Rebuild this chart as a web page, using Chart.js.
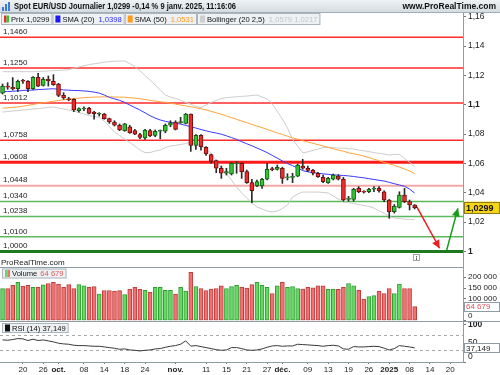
<!DOCTYPE html>
<html>
<head>
<meta charset="utf-8">
<script src="https://cdn.jsdelivr.net/npm/chart.js@4/dist/chart.umd.min.js"></script>
<style>
  html, body { margin: 0; padding: 0; background: #fff; }
  canvas { display: block; }
</style>
</head>
<body>
<canvas id="chart" width="500" height="375"></canvas>
<script>
// ===== Spot EUR/USD daily - ProRealTime style chart (Chart.js) =====

// index 0 = 16 Sep 2024 ... 81 = 9 Jan 2025 (weekdays, no 25 Dec / 1 Jan)
const opens = [
  1.1078, 1.1125, 1.1118, 1.1109, 1.1163, 1.1159, 1.1109, 1.1186, 1.1132, 1.1173,
  1.1159, 1.1141, 1.1064, 1.1041, 1.1037, 1.0959, 1.0971, 1.0975, 1.0950, 1.0935,
  1.0937, 1.0905, 1.0882, 1.0860, 1.0823, 1.0850, 1.0823, 1.0796, 1.0773, 1.0823,
  1.0791, 1.0819, 1.0819, 1.0860, 1.0882, 1.0878, 1.0873, 1.0937, 1.0723, 1.0791,
  1.0710, 1.0660, 1.0619, 1.0567, 1.0533, 1.0528, 1.0596, 1.0601, 1.0544, 1.0469,
  1.0446, 1.0446, 1.0492, 1.0562, 1.0560, 1.0567, 1.0502, 1.0505, 1.0514, 1.0582,
  1.0567, 1.0555, 1.0533, 1.0505, 1.0469, 1.0492, 1.0514, 1.0492, 1.0355, 1.0355,
  1.0430, 1.0409, 1.0407, 1.0424, 1.0430, 1.0407, 1.0351, 1.0271, 1.0301, 1.0385,
  1.0340, 1.0317
];
const highs = [
  1.1141, 1.1150, 1.1185, 1.1168, 1.1173, 1.1164, 1.1191, 1.1214, 1.1186, 1.1196,
  1.1205, 1.1146, 1.1082, 1.1050, 1.1041, 1.0978, 1.0986, 1.0982, 1.0955, 1.0946,
  1.0941, 1.0909, 1.0891, 1.0869, 1.0873, 1.0860, 1.0832, 1.0805, 1.0832, 1.0832,
  1.0828, 1.0828, 1.0869, 1.0891, 1.0891, 1.0914, 1.0941, 1.0937, 1.0796, 1.0796,
  1.0714, 1.0664, 1.0623, 1.0582, 1.0567, 1.0605, 1.0612, 1.0605, 1.0555, 1.0492,
  1.0487, 1.0498, 1.0601, 1.0574, 1.0589, 1.0574, 1.0530, 1.0533, 1.0596, 1.0628,
  1.0582, 1.0560, 1.0540, 1.0521, 1.0505, 1.0528, 1.0524, 1.0505, 1.0376, 1.0430,
  1.0442, 1.0414, 1.0430, 1.0442, 1.0442, 1.0414, 1.0355, 1.0320, 1.0407, 1.0430,
  1.0351, 1.0320
];
const lows = [
  1.1073, 1.1105, 1.1100, 1.1090, 1.1146, 1.1089, 1.1105, 1.1123, 1.1127, 1.1127,
  1.1132, 1.1055, 1.1037, 1.1027, 1.0953, 1.0950, 1.0959, 1.0937, 1.0901, 1.0923,
  1.0901, 1.0873, 1.0855, 1.0823, 1.0819, 1.0805, 1.0796, 1.0768, 1.0764, 1.0782,
  1.0782, 1.0768, 1.0809, 1.0850, 1.0828, 1.0873, 1.0869, 1.0682, 1.0696, 1.0691,
  1.0655, 1.0601, 1.0537, 1.0498, 1.0521, 1.0521, 1.0533, 1.0498, 1.0464, 1.0333,
  1.0442, 1.0430, 1.0487, 1.0550, 1.0555, 1.0464, 1.0487, 1.0469, 1.0510, 1.0560,
  1.0544, 1.0521, 1.0505, 1.0469, 1.0464, 1.0487, 1.0487, 1.0342, 1.0343, 1.0343,
  1.0400, 1.0398, 1.0400, 1.0407, 1.0405, 1.0340, 1.0226, 1.0262, 1.0296, 1.0333,
  1.0283, 1.0290
];
const closes = [
  1.1127, 1.1120, 1.1109, 1.1159, 1.1160, 1.1109, 1.1186, 1.1127, 1.1173, 1.1164,
  1.1136, 1.1064, 1.1046, 1.1032, 1.0964, 1.0973, 1.0975, 1.0941, 1.0937, 1.0939,
  1.0905, 1.0882, 1.0860, 1.0828, 1.0869, 1.0809, 1.0800, 1.0778, 1.0828, 1.0787,
  1.0819, 1.0823, 1.0860, 1.0877, 1.0832, 1.0882, 1.0937, 1.0723, 1.0791, 1.0714,
  1.0664, 1.0614, 1.0567, 1.0533, 1.0544, 1.0601, 1.0599, 1.0544, 1.0469, 1.0414,
  1.0476, 1.0492, 1.0560, 1.0558, 1.0574, 1.0498, 1.0505, 1.0510, 1.0589, 1.0567,
  1.0553, 1.0533, 1.0510, 1.0476, 1.0498, 1.0521, 1.0492, 1.0351, 1.0360, 1.0424,
  1.0407, 1.0405, 1.0424, 1.0426, 1.0414, 1.0351, 1.0271, 1.0310, 1.0385, 1.0340,
  1.0317, 1.0299
];
const volumes = [
  148000, 148000, 162000, 176000, 159000, 162000, 153000, 153000, 165000, 171000,
  176000, 168000, 153000, 166000, 148000, 166000, 160000, 153000, 157000, 122000,
  139000, 139000, 136000, 138000, 120000, 145000, 153000, 144000, 140000, 130000,
  153000, 153000, 140000, 140000, 122000, 153000, 136000, 222000, 157000, 148000,
  139000, 145000, 148000, 160000, 148000, 157000, 162000, 153000, 150000, 166000,
  176000, 163000, 153000, 125000, 160000, 176000, 153000, 157000, 148000, 145000,
  153000, 151000, 160000, 160000, 144000, 145000, 144000, 153000, 171000, 160000,
  140000, 99000, 111000, 116000, 136000, 125000, 148000, 125000, 168000, 148000,
  148000, 64679
];
const sma20 = [
  1.1088, 1.1090, 1.1092, 1.1094, 1.1097, 1.1099, 1.1100, 1.1103, 1.1105, 1.1107,
  1.1109, 1.1105, 1.1101, 1.1099, 1.1097, 1.1096, 1.1094, 1.1091, 1.1086, 1.1079,
  1.1066, 1.1050, 1.1040, 1.1030, 1.1016, 1.0998, 1.0981, 1.0964, 1.0945, 1.0925,
  1.0909, 1.0896, 1.0887, 1.0880, 1.0874, 1.0868, 1.0859, 1.0850, 1.0841, 1.0831,
  1.0822, 1.0814, 1.0807, 1.0799, 1.0788, 1.0776, 1.0764, 1.0748, 1.0734, 1.0720,
  1.0705, 1.0690, 1.0674, 1.0655, 1.0636, 1.0617, 1.0599, 1.0585, 1.0570, 1.0551,
  1.0543, 1.0537, 1.0533, 1.0529, 1.0526, 1.0522, 1.0520, 1.0518, 1.0515, 1.0511,
  1.0506, 1.0502, 1.0496, 1.0491, 1.0485, 1.0480, 1.0471, 1.0462, 1.0453, 1.0444,
  1.0425, 1.0398
];
const sma50 = [
  1.0977, 1.0979, 1.0982, 1.0985, 1.0989, 1.0996, 1.1002, 1.1008, 1.1013, 1.1018,
  1.1024, 1.1029, 1.1034, 1.1038, 1.1042, 1.1045, 1.1048, 1.1050, 1.1052, 1.1053,
  1.1054, 1.1054, 1.1053, 1.1052, 1.1051, 1.1048, 1.1045, 1.1041, 1.1035, 1.1030,
  1.1025, 1.1020, 1.1016, 1.1011, 1.1004, 1.0998, 1.0992, 1.0986, 1.0979, 1.0972,
  1.0965, 1.0955, 1.0945, 1.0935, 1.0924, 1.0912, 1.0900, 1.0889, 1.0878, 1.0866,
  1.0855, 1.0844, 1.0832, 1.0820, 1.0808, 1.0797, 1.0785, 1.0774, 1.0765, 1.0755,
  1.0746, 1.0737, 1.0728, 1.0719, 1.0709, 1.0700, 1.0691, 1.0683, 1.0672, 1.0666,
  1.0659, 1.0650, 1.0640, 1.0629, 1.0618, 1.0607, 1.0597, 1.0587, 1.0575, 1.0562,
  1.0549, 1.0531
];
const bollUp = [
  1.1225, 1.1225, 1.1225, 1.1225, 1.1225, 1.1225, 1.1225, 1.1226, 1.1228, 1.1230,
  1.1232, 1.1234, 1.1236, 1.1239, 1.1248, 1.1257, 1.1265, 1.1273, 1.1279, 1.1284,
  1.1290, 1.1294, 1.1296, 1.1298, 1.1298, 1.1280, 1.1260, 1.1231, 1.1200, 1.1168,
  1.1134, 1.1100, 1.1066, 1.1052, 1.1043, 1.1031, 1.1016, 1.1003, 1.0988, 1.0980,
  1.0998, 1.1015, 1.1029, 1.1042, 1.1048, 1.1051, 1.1054, 1.1057, 1.1059, 1.1063,
  1.1066, 1.1053, 1.1039, 1.1007, 1.0954, 1.0903, 1.0841, 1.0763, 1.0719, 1.0671,
  1.0679, 1.0689, 1.0698, 1.0708, 1.0710, 1.0708, 1.0705, 1.0703, 1.0701, 1.0698,
  1.0691, 1.0686, 1.0681, 1.0674, 1.0669, 1.0664, 1.0657, 1.0662, 1.0661, 1.0634,
  1.0608, 1.0579
];
const bollDown = [
  1.0950, 1.0954, 1.0957, 1.0960, 1.0964, 1.0967, 1.0971, 1.0974, 1.0978, 1.0981,
  1.0984, 1.0978, 1.0971, 1.0964, 1.0957, 1.0947, 1.0937, 1.0926, 1.0920, 1.0914,
  1.0889, 1.0851, 1.0814, 1.0790, 1.0766, 1.0743, 1.0719, 1.0691, 1.0674, 1.0674,
  1.0685, 1.0691, 1.0708, 1.0719, 1.0723, 1.0729, 1.0736, 1.0746, 1.0732, 1.0719,
  1.0698, 1.0671, 1.0616, 1.0569, 1.0528, 1.0487, 1.0439, 1.0399, 1.0364, 1.0330,
  1.0303, 1.0290, 1.0276, 1.0269, 1.0276, 1.0293, 1.0317, 1.0371, 1.0392, 1.0405,
  1.0405, 1.0405, 1.0405, 1.0402, 1.0399, 1.0378, 1.0358, 1.0339, 1.0334, 1.0327,
  1.0320, 1.0313, 1.0307, 1.0296, 1.0276, 1.0262, 1.0238, 1.0228, 1.0225, 1.0221,
  1.0219, 1.0217
];
const rsi14 = [
  58.5, 57.6, 59.4, 62.1, 61.2, 56.8, 60.3, 56.8, 58.5, 55.9,
  53.2, 49.7, 47.9, 47.0, 44.4, 43.4, 43.4, 42.5, 41.6, 41.6,
  39.9, 38.1, 36.4, 33.7, 34.6, 31.9, 31.0, 29.2, 31.0, 31.9,
  34.6, 35.5, 39.0, 41.6, 43.4, 47.0, 55.9, 42.0, 43.4, 40.7,
  38.1, 35.5, 32.8, 31.0, 31.9, 38.1, 38.1, 35.5, 31.9, 31.0,
  31.9, 34.6, 39.0, 42.5, 43.4, 41.6, 42.5, 42.5, 47.0, 46.1,
  45.2, 44.3, 43.4, 41.6, 43.4, 44.3, 42.5, 34.6, 33.7, 40.8,
  39.9, 39.9, 40.8, 41.6, 40.8, 36.4, 31.9, 35.5, 43.4, 41.6,
  39.9, 37.149
];

// support / resistance levels drawn across the price pane
const levels = [1.1460, 1.1250, 1.1012, 1.0758, 1.0608, 1.0448, 1.0340, 1.0238, 1.0100, 1.0000];

// projected path after the last candle (x in trading-day slots)
const arrowDown = [{ x: 81.4, y: 1.0305 }, { x: 85.9, y: 1.0022 }];
const arrowUp = [{ x: 87.3, y: 1.0010 }, { x: 89.5, y: 1.0294 }];

// axis ticks
const priceTicks = [1.00, 1.02, 1.04, 1.06, 1.08, 1.10, 1.12, 1.14, 1.16];
const volumeTicks = [0, 50000, 100000, 150000, 200000];
const rsiTicks = [0, 30, 50, 70, 100];
const rsiBands = [30, 70];
const dateTickIdx = [4, 8, 11, 16, 20, 24, 28, 34, 40, 44, 48, 52, 55, 60, 64, 68, 72, 76, 80, 84, 88];
const dateTickText = ['20', '26', 'oct.', '08', '14', '18', '24', 'nov.', '11', '15', '21', '27', 'déc.', '09', '13', '19', '26', '2025', '08', '14', '20'];

// ----- styling -----
const FONT = '"Liberation Sans", Arial, sans-serif';
const UP = '#33c433', UP_DARK = '#145c14';
const DOWN = '#ee2b2b', DOWN_DARK = '#6e1010';
const VOL_UP = '#66d866', VOL_UP_EDGE = '#2e9e2e';
const VOL_DOWN = '#ee7272', VOL_DOWN_EDGE = '#c23c3c';
const AXIS = '#8e9ca6';
const levelColors = ['#ff2a2a', '#ff2a2a', '#ff2a2a', '#ff2a2a', '#ff1a1a', '#f4a8a8', '#5cb85c', '#5cb85c', '#5cb85c', '#1f7a1f'];
const levelWidths = [1.5, 1.5, 1.5, 1.5, 3, 2, 1.5, 1.5, 1.5, 3];
const TAG_FONT = '7.6px ' + FONT;

Chart.defaults.font.family = FONT;
Chart.defaults.font.size = 8;
Chart.defaults.color = '#222';

const N = closes.length;
const isUp = i => closes[i] >= opens[i];
const frNum = (v, d) => v.toFixed(d).replace('.', ',');
const frThousands = v => Math.round(v).toString().replace(/\B(?=(\d{3})+(?!\d))/g, ' ');
const priceLabel = v => v.toFixed(2).replace(/0+$/, '').replace(/\.$/, '').replace('.', ',');
const xy = arr => arr.map((v, i) => ({ x: i, y: v }));
const tickOf = c => (c && c.tick) ? c.tick : null;

function drawTag(ctx, x, y, h, icon, parts) {
  ctx.font = TAG_FONT;
  let w = 10;
  parts.forEach(p => { w += ctx.measureText(p[0]).width + (p[2] || 0); });
  w += 3;
  ctx.fillStyle = '#eef1f3';
  ctx.fillRect(x, y, w, h);
  ctx.strokeStyle = '#aab5bd';
  ctx.lineWidth = 1;
  ctx.strokeRect(x + 0.5, y + 0.5, w - 1, h - 1);
  const iw = 5, ih = 7, iy = y + (h - ih) / 2;
  icon.forEach((c, k) => {
    ctx.fillStyle = c;
    ctx.fillRect(x + 3 + k * iw / icon.length, iy, iw / icon.length, ih);
  });
  let tx = x + 10;
  ctx.textBaseline = 'middle';
  ctx.textAlign = 'left';
  parts.forEach(([t, c, gap]) => {
    ctx.fillStyle = c;
    ctx.fillText(t, tx, y + h / 2 + 0.5);
    tx += ctx.measureText(t).width + (gap || 0);
  });
  return w;
}

function valueBox(ctx, y, text, fill, color, bold) {
  const x0 = 464, x1 = 500, h = bold ? 12 : 10;
  ctx.fillStyle = fill;
  ctx.fillRect(x0, y - h / 2, x1 - x0, h);
  ctx.strokeStyle = bold ? '#8a7a1a' : '#8e9ca6';
  ctx.lineWidth = 1;
  ctx.strokeRect(x0 + 0.5, Math.round(y - h / 2) + 0.5, x1 - x0 - 1, h - 1);
  ctx.fillStyle = color;
  ctx.font = (bold ? 'bold 9px ' : '8px ') + FONT;
  ctx.textAlign = 'left';
  ctx.textBaseline = 'middle';
  ctx.fillText(text, x0 + 2, y + 0.5);
}

function arrowHead(ctx, p0, p1, color) {
  const a = Math.atan2(p1.y - p0.y, p1.x - p0.x);
  const L = 8, W = 4;
  ctx.fillStyle = color;
  ctx.beginPath();
  ctx.moveTo(p1.x, p1.y);
  ctx.lineTo(p1.x - L * Math.cos(a) + W * Math.sin(a), p1.y - L * Math.sin(a) - W * Math.cos(a));
  ctx.lineTo(p1.x - L * Math.cos(a) - W * Math.sin(a), p1.y - L * Math.sin(a) + W * Math.cos(a));
  ctx.closePath();
  ctx.fill();
}

const decorPlugin = {
  id: 'decor',
  beforeDraw(chart) {
    const { ctx, width } = chart;
    ctx.save();
    ctx.fillStyle = '#fff';
    ctx.fillRect(0, 0, width, chart.height);
    const g = ctx.createLinearGradient(0, 0, 0, 13);
    g.addColorStop(0, '#eef2f4');
    g.addColorStop(1, '#d3dadf');
    ctx.fillStyle = g;
    ctx.fillRect(0, 0, width, 13);
    ctx.strokeStyle = '#a3afb8';
    ctx.beginPath(); ctx.moveTo(0, 12.5); ctx.lineTo(width, 12.5); ctx.stroke();
    // small chart icon
    ctx.fillStyle = '#3a7bd5';
    [[2, 7, 4], [5, 4, 7], [8, 2, 9]].forEach(([x, y, h]) => ctx.fillRect(x, y, 2, h));
    ctx.fillStyle = '#111';
    ctx.font = 'bold 8.5px ' + FONT;
    ctx.textBaseline = 'middle';
    ctx.textAlign = 'left';
    ctx.fillText('Spot EUR/USD Journalier ' + frNum(closes[N - 1], 4) + ' -0,14 % 9 janv. 2025, 11:16:06', 14, 7, 222);
    ctx.textAlign = 'right';
    ctx.fillText('www.ProRealTime.com', 496, 7);
    ctx.restore();
  },
  beforeDatasetsDraw(chart) {
    const { ctx, chartArea } = chart;
    const sP = chart.scales.yPrice;
    ctx.save();
    levels.forEach((lv, i) => {
      const y = sP.getPixelForValue(lv);
      ctx.strokeStyle = levelColors[i];
      ctx.lineWidth = levelWidths[i];
      ctx.beginPath();
      ctx.moveTo(chartArea.left, y);
      ctx.lineTo(chartArea.right, y);
      ctx.stroke();
      ctx.fillStyle = '#222';
      ctx.font = '8px ' + FONT;
      ctx.textAlign = 'left';
      ctx.textBaseline = 'middle';
      ctx.fillText(frNum(lv, 4), 3, y - 5.5);
    });
    ctx.restore();
  },
  afterDraw(chart) {
    const { ctx, chartArea } = chart;
    const sP = chart.scales.yPrice, sV = chart.scales.yVol, sR = chart.scales.yRsi;
    ctx.save();

    // legend row
    let x = 1;
    x += drawTag(ctx, x, 13, 12, [DOWN, UP], [['Prix ' + frNum(closes[N - 1], 4), '#111']]);
    x += drawTag(ctx, x, 13, 12, ['#1a1aff'], [['SMA (20)', '#111', 4], [frNum(sma20[N - 1], 4), '#2a2aff']]);
    x += drawTag(ctx, x, 13, 12, ['#ff9a1a'], [['SMA (50)', '#111', 4], [frNum(sma50[N - 1], 4), '#ff9a1a']]);
    drawTag(ctx, x, 13, 12, ['#cfcfcf'], [['Bollinger (20 2,5)', '#111', 4], [frNum(bollUp[N - 1], 4) + ' ' + frNum(bollDown[N - 1], 4), '#c4c4c4']]);

    // arrow heads
    [[8, '#ee1c1c'], [9, '#1a9a1a']].forEach(([di, col]) => {
      const pts = chart.getDatasetMeta(di).data;
      if (pts.length > 1) arrowHead(ctx, pts[0], pts[1], col);
    });

    // pane separators
    ctx.strokeStyle = AXIS;
    ctx.lineWidth = 1;
    const volTop = Math.round(sV.top + 7) + 0.5;
    ctx.beginPath(); ctx.moveTo(0, volTop); ctx.lineTo(chartArea.right, volTop); ctx.stroke();
    const rsiTop = Math.round(sV.bottom) + 0.5;
    ctx.beginPath(); ctx.moveTo(0, rsiTop); ctx.lineTo(500, rsiTop); ctx.stroke();

    ctx.fillStyle = '#222';
    ctx.font = '8px ' + FONT;
    ctx.textAlign = 'left';
    ctx.textBaseline = 'middle';
    ctx.fillText('ProRealTime.com', 1, sV.top + 2.5);

    // info icon
    ctx.strokeStyle = '#9aa6ae';
    ctx.strokeRect(413.5, sV.top - 5.5, 6, 6);
    ctx.fillStyle = '#666';
    ctx.fillRect(416, sV.top - 4, 1, 1);
    ctx.fillRect(416, sV.top - 2.5, 1, 2.5);

    drawTag(ctx, 2, volTop + 1, 10, [VOL_UP, VOL_DOWN], [['Volume', '#111', 3], [frThousands(volumes[N - 1]), '#e05555']]);
    drawTag(ctx, 2, rsiTop + 1.5, 10, ['#111'], [['RSI (14) ' + frNum(rsi14[N - 1], 3), '#111']]);

    // last values on the right axis
    valueBox(ctx, sP.getPixelForValue(closes[N - 1]), frNum(closes[N - 1], 4), '#f6d516', '#111', true);
    valueBox(ctx, sV.getPixelForValue(volumes[N - 1]), frThousands(volumes[N - 1]), '#fff', '#e05555', false);
    valueBox(ctx, sR.getPixelForValue(rsi14[N - 1]), frNum(rsi14[N - 1], 3), '#fff', '#222', false);
    ctx.restore();
  }
};

const rightAxis = (weight, extra) => Object.assign({
  type: 'linear',
  position: 'right',
  stack: 'panes',
  stackWeight: weight,
  beginAtZero: false,
  afterFit: s => { s.width = 37; },
  grid: { drawOnChartArea: false, drawTicks: true, tickLength: 3, tickColor: '#777' },
  border: { display: true, color: AXIS }
}, extra);

const candleColor = (light, dark) => c => (isUp(c.dataIndex) ? light : dark);

const chart = new Chart(document.getElementById('chart'), {
  data: {
    datasets: [
      { // 0 candle bodies
        type: 'bar', yAxisID: 'yPrice', order: 0, grouped: false,
        data: opens.map((o, i) => ({ x: i, y: [o, closes[i]] })),
        barThickness: 4, minBarLength: 1, borderWidth: 1, borderSkipped: false,
        backgroundColor: candleColor(UP, DOWN),
        borderColor: candleColor(UP_DARK, DOWN_DARK)
      },
      { // 1 wicks
        type: 'bar', yAxisID: 'yPrice', order: 1, grouped: false,
        data: highs.map((h, i) => ({ x: i, y: [lows[i], h] })),
        barThickness: 1, backgroundColor: '#2a2a2a', borderWidth: 0
      },
      { // 2 SMA 20
        type: 'line', yAxisID: 'yPrice', order: 3, data: xy(sma20),
        borderColor: '#3a3aff', borderWidth: 1, pointRadius: 0
      },
      { // 3 SMA 50
        type: 'line', yAxisID: 'yPrice', order: 4, data: xy(sma50),
        borderColor: '#ffa43a', borderWidth: 1, pointRadius: 0
      },
      { // 4 Bollinger upper
        type: 'line', yAxisID: 'yPrice', order: 5, data: xy(bollUp),
        borderColor: '#cdcdcd', borderWidth: 1, pointRadius: 0
      },
      { // 5 Bollinger lower
        type: 'line', yAxisID: 'yPrice', order: 5, data: xy(bollDown),
        borderColor: '#cdcdcd', borderWidth: 1, pointRadius: 0
      },
      { // 6 volume
        type: 'bar', yAxisID: 'yVol', order: 2, grouped: false,
        data: xy(volumes),
        barThickness: 4, borderWidth: 1, borderSkipped: false,
        backgroundColor: candleColor(VOL_UP, VOL_DOWN),
        borderColor: candleColor(VOL_UP_EDGE, VOL_DOWN_EDGE)
      },
      { // 7 RSI
        type: 'line', yAxisID: 'yRsi', order: 2, data: xy(rsi14),
        borderColor: '#3a3a3a', borderWidth: 1, pointRadius: 0
      },
      { // 8 arrow down
        type: 'line', yAxisID: 'yPrice', order: 0, data: arrowDown,
        borderColor: '#ee1c1c', borderWidth: 1.5, pointRadius: 0
      },
      { // 9 arrow up
        type: 'line', yAxisID: 'yPrice', order: 0, data: arrowUp,
        borderColor: '#1a9a1a', borderWidth: 1.5, pointRadius: 0
      }
    ]
  },
  options: {
    responsive: false,
    animation: false,
    events: [],
    layout: { padding: { top: 13, left: 0, right: 0, bottom: 0 } },
    plugins: { legend: { display: false }, tooltip: { enabled: false } },
    scales: {
      x: {
        type: 'linear', min: -0.5, max: 90.5, offset: false,
        afterBuildTicks: s => { s.ticks = dateTickIdx.map(v => ({ value: v })); },
        afterFit: s => { s.height = 13; },
        grid: { offset: false, drawOnChartArea: false, drawTicks: true, tickLength: 2, tickColor: '#777' },
        border: { display: true, color: AXIS },
        ticks: {
          autoSkip: false, maxRotation: 0, padding: 1, color: '#222',
          callback: (v, i) => dateTickText[i],
          font: c => {
            const t = tickOf(c);
            const bold = t && !/^\d\d$/.test(String(t.label));
            return { family: FONT, size: 8, weight: bold ? 'bold' : 'normal' };
          }
        }
      },
      yPrice: rightAxis(247, {
        min: 0.9942, max: 1.1625,
        afterBuildTicks: s => { s.ticks = priceTicks.map(v => ({ value: v })); },
        ticks: {
          autoSkip: false, padding: 2, color: '#222',
          callback: v => priceLabel(v),
          font: c => {
            const t = tickOf(c);
            const bold = t && Math.abs(t.value * 10 - Math.round(t.value * 10)) < 1e-6;
            return { family: FONT, size: 8.5, weight: bold ? 'bold' : 'normal' };
          }
        }
      }),
      yVol: rightAxis(60.7, {
        min: 0, max: 279000,
        afterBuildTicks: s => { s.ticks = volumeTicks.map(v => ({ value: v })); },
        ticks: { autoSkip: false, padding: 2, color: '#222', font: { size: 8 }, callback: v => (v === 0 ? ['0', ''] : frThousands(v)) }
      }),
      yRsi: rightAxis(41.3, {
        min: 0, max: 109.3,
        afterBuildTicks: s => { s.ticks = rsiTicks.map(v => ({ value: v })); },
        grid: {
          drawOnChartArea: true, drawTicks: true, tickLength: 3,
          color: c => { const t = tickOf(c); return t && rsiBands.includes(t.value) ? '#a8a8a8' : 'rgba(0,0,0,0)'; },
          tickColor: c => { const t = tickOf(c); return t && rsiBands.includes(t.value) ? 'rgba(0,0,0,0)' : '#777'; }
        },
        border: { display: true, color: AXIS, dash: [3, 3] },
        ticks: {
          autoSkip: false, padding: 2, color: '#222',
          callback: v => (rsiBands.includes(v) ? '' : v === 0 ? ['0', ''] : String(v)),
          font: c => { const t = tickOf(c); return { family: FONT, size: 8.5, weight: t && t.value === 100 ? 'bold' : 'normal' }; }
        }
      })
    }
  },
  plugins: [decorPlugin]
});
</script>
</body>
</html>
